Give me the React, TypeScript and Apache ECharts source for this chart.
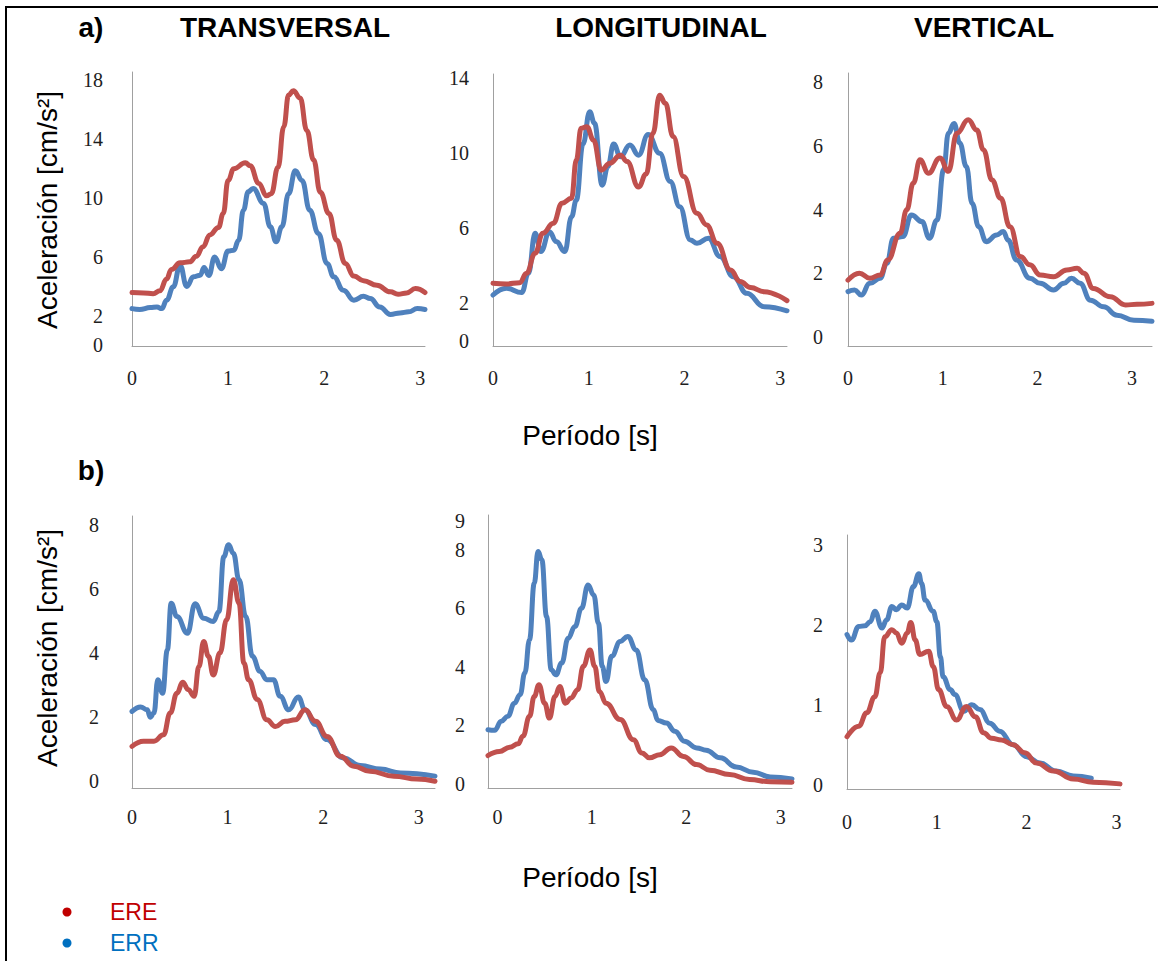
import React, { useEffect, useRef } from "react";
import * as echarts from "echarts";

// ---------- DATA (period [s], acceleration [cm/s2]) ----------
const xTickLabels = [0, 1, 2, 3];

const transA_ERE: number[][] = [[0,3.58],[0.12,3.56],[0.22,3.5],[0.29,3.7],[0.36,4.5],[0.41,5.15],[0.5,5.6],[0.6,5.67],[0.67,6.05],[0.74,6.7],[0.81,7.5],[0.9,8.0],[0.95,8.96],[1.0,11.2],[1.06,12.0],[1.18,12.4],[1.23,12.2],[1.32,11.0],[1.4,10.16],[1.45,10.3],[1.52,12.1],[1.58,14.85],[1.63,17.0],[1.68,17.3],[1.75,16.8],[1.82,14.6],[1.89,12.6],[1.96,10.4],[2.05,8.96],[2.13,7.14],[2.22,5.56],[2.31,4.7],[2.41,4.38],[2.55,4.08],[2.69,3.63],[2.77,3.47],[2.86,3.56],[2.95,3.85],[3.05,3.58]];
const transA_ERR: number[][] = [[0,2.49],[0.08,2.43],[0.19,2.56],[0.26,2.6],[0.31,2.49],[0.36,3.06],[0.43,3.97],[0.5,5.44],[0.57,4.0],[0.64,4.65],[0.71,4.76],[0.75,5.28],[0.8,4.74],[0.86,6.0],[0.93,5.2],[1.0,6.4],[1.06,6.46],[1.11,7.14],[1.16,9.18],[1.21,10.43],[1.26,10.66],[1.37,9.64],[1.44,8.05],[1.5,7.03],[1.56,8.05],[1.63,10.3],[1.7,11.86],[1.77,11.2],[1.85,9.18],[1.94,7.6],[2.03,5.56],[2.1,4.65],[2.2,3.74],[2.31,3.06],[2.41,3.33],[2.48,3.17],[2.58,2.6],[2.69,2.09],[2.79,2.2],[2.88,2.27],[2.97,2.49],[3.05,2.43]];
const transA_yTicks = [0, 2, 6, 10, 14, 18];

const longA_ERE: number[][] = [[0,3.07],[0.14,3.03],[0.28,3.1],[0.35,3.6],[0.44,4.67],[0.52,5.73],[0.63,6.27],[0.72,7.33],[0.82,7.6],[0.87,9.64],[0.92,11.33],[0.98,11.42],[1.05,10.7],[1.13,9.1],[1.22,9.47],[1.33,9.9],[1.4,9.56],[1.52,8.2],[1.6,8.9],[1.67,11.07],[1.74,13.1],[1.8,12.67],[1.88,10.9],[1.99,8.76],[2.13,6.8],[2.23,6.18],[2.34,5.2],[2.48,3.78],[2.58,3.16],[2.69,2.84],[2.83,2.62],[3.07,2.14]];
const longA_ERR: number[][] = [[0,2.44],[0.14,2.8],[0.3,2.57],[0.37,3.6],[0.44,5.73],[0.5,4.76],[0.59,5.82],[0.66,5.29],[0.75,4.76],[0.82,6.62],[0.87,7.5],[0.94,10.5],[1.01,12.22],[1.06,11.6],[1.14,8.3],[1.2,9.3],[1.26,10.5],[1.33,9.82],[1.43,10.44],[1.52,9.9],[1.62,11.0],[1.74,10.0],[1.85,8.5],[1.95,7.15],[2.06,5.38],[2.13,5.2],[2.25,5.47],[2.37,4.5],[2.51,3.42],[2.65,2.53],[2.83,1.82],[3.07,1.6]];
const longA_yTicks = [0, 2, 6, 10, 14];

const vertA_ERE: number[][] = [[0,1.78],[0.12,2.0],[0.23,1.84],[0.34,1.94],[0.42,2.41],[0.55,3.25],[0.62,3.99],[0.69,4.83],[0.76,5.56],[0.85,5.14],[0.97,5.62],[1.06,5.2],[1.15,6.4],[1.27,6.82],[1.36,6.5],[1.43,5.88],[1.52,4.93],[1.61,4.36],[1.71,3.46],[1.82,2.52],[1.92,2.26],[2.03,1.94],[2.17,1.89],[2.31,2.1],[2.42,2.15],[2.49,2.0],[2.59,1.52],[2.77,1.26],[2.93,1.0],[3.05,1.02],[3.21,1.05]];
const vertA_ERR: number[][] = [[0,1.42],[0.07,1.47],[0.14,1.31],[0.23,1.68],[0.34,1.84],[0.41,2.31],[0.48,3.1],[0.58,3.15],[0.67,3.83],[0.78,3.62],[0.86,3.1],[0.94,3.67],[1.01,5.25],[1.06,6.4],[1.12,6.7],[1.18,6.09],[1.25,5.35],[1.31,4.2],[1.38,3.46],[1.46,2.99],[1.57,3.2],[1.64,3.31],[1.69,3.04],[1.78,2.41],[1.92,1.84],[2.03,1.68],[2.17,1.47],[2.28,1.68],[2.36,1.84],[2.45,1.68],[2.56,1.15],[2.7,0.94],[2.84,0.68],[3.02,0.52],[3.21,0.49]];
const vertA_yTicks = [0, 2, 4, 6, 8];

const transB_ERE: number[][] = [[0,1.09],[0.12,1.25],[0.23,1.25],[0.33,1.45],[0.4,2.13],[0.47,2.75],[0.53,3.09],[0.59,2.86],[0.65,2.65],[0.7,3.58],[0.75,4.36],[0.8,3.9],[0.85,3.32],[0.92,4.0],[0.99,5.04],[1.06,6.29],[1.12,5.56],[1.17,3.69],[1.22,3.17],[1.31,2.55],[1.41,1.92],[1.5,1.71],[1.6,1.87],[1.71,1.92],[1.81,2.23],[1.92,1.87],[2.04,1.4],[2.18,0.78],[2.32,0.47],[2.49,0.31],[2.74,0.16],[2.98,0.07],[3.17,0.0]];
const transB_ERR: number[][] = [[0,2.18],[0.09,2.32],[0.16,2.23],[0.19,2.0],[0.23,2.13],[0.27,3.17],[0.32,2.75],[0.37,4.1],[0.41,5.56],[0.47,5.14],[0.58,4.62],[0.66,5.54],[0.75,5.09],[0.85,4.99],[0.91,5.3],[0.96,7.01],[1.01,7.38],[1.06,7.12],[1.12,6.29],[1.19,5.14],[1.26,3.9],[1.34,3.43],[1.41,3.17],[1.48,3.17],[1.55,2.65],[1.64,2.23],[1.74,2.63],[1.81,2.23],[1.92,1.77],[2.04,1.3],[2.21,0.73],[2.39,0.49],[2.6,0.38],[2.81,0.26],[3.17,0.16]];
const transB_yTicks = [0, 2, 4, 6, 8];

const longB_ERE: number[][] = [[-0.1,0.97],[0.02,1.11],[0.13,1.25],[0.22,1.37],[0.27,1.63],[0.34,2.31],[0.39,2.99],[0.44,3.39],[0.5,2.76],[0.55,2.25],[0.61,2.99],[0.66,3.33],[0.72,2.76],[0.78,2.94],[0.85,3.22],[0.91,4.02],[0.98,4.58],[1.03,4.02],[1.08,3.16],[1.15,2.76],[1.3,2.2],[1.44,1.51],[1.53,1.06],[1.61,0.89],[1.72,1.0],[1.84,1.23],[1.97,0.94],[2.11,0.66],[2.25,0.47],[2.46,0.32],[2.67,0.15],[2.89,0.07],[3.12,0.06]];
const longB_ERR: number[][] = [[-0.1,1.85],[-0.03,1.83],[0.04,2.14],[0.11,2.31],[0.18,2.76],[0.24,3.05],[0.29,3.79],[0.34,4.93],[0.39,6.86],[0.43,7.94],[0.47,7.66],[0.52,5.72],[0.57,3.9],[0.62,3.73],[0.68,4.13],[0.75,4.98],[0.82,5.38],[0.89,6.0],[0.96,6.8],[1.02,6.46],[1.07,5.49],[1.11,4.02],[1.15,3.5],[1.21,4.36],[1.3,4.87],[1.38,5.04],[1.47,4.58],[1.56,3.56],[1.65,2.54],[1.7,2.17],[1.79,2.08],[1.88,1.8],[1.98,1.46],[2.11,1.23],[2.21,1.15],[2.36,0.89],[2.53,0.58],[2.71,0.4],[2.89,0.24],[3.12,0.17]];
const longB_yTicks = [0, 2, 4, 6, 8, 9];

const vertB_ERE: number[][] = [[0,0.6],[0.13,0.73],[0.22,0.9],[0.31,1.1],[0.37,1.4],[0.42,1.85],[0.5,1.94],[0.55,1.9],[0.61,1.77],[0.67,1.9],[0.71,2.03],[0.76,1.81],[0.81,1.63],[0.91,1.67],[0.96,1.48],[1.02,1.19],[1.11,0.98],[1.22,0.81],[1.33,0.98],[1.43,0.85],[1.52,0.65],[1.61,0.58],[1.72,0.56],[1.85,0.5],[1.98,0.4],[2.11,0.27],[2.3,0.17],[2.52,0.07],[2.74,0.03],[3.04,0.01]];
const vertB_ERR: number[][] = [[0,1.88],[0.05,1.81],[0.13,1.98],[0.2,1.99],[0.26,2.04],[0.31,2.17],[0.39,1.96],[0.44,2.06],[0.5,2.23],[0.55,2.19],[0.61,2.25],[0.67,2.21],[0.74,2.48],[0.8,2.64],[0.83,2.52],[0.87,2.31],[0.96,2.17],[1.0,2.04],[1.04,1.6],[1.07,1.35],[1.15,1.19],[1.2,1.13],[1.3,0.92],[1.39,1.0],[1.48,0.94],[1.59,0.77],[1.7,0.67],[1.85,0.5],[2.0,0.35],[2.15,0.27],[2.33,0.17],[2.52,0.11],[2.72,0.08]];
const vertB_yTicks = [0, 1, 2, 3];

const componentTitles = ["TRANSVERSAL", "LONGITUDINAL", "VERTICAL"];
const seriesNames = ["ERE", "ERR"];

// ---------- LAYOUT / STYLE ----------
const RED = "#C0504D";
const BLUE = "#4F81BD";
const SANS = "'Liberation Sans', Arial, sans-serif";
const SERIF = "'Liberation Serif', 'Times New Roman', serif";

const panels = [
  { left: 132, top: 72, width: 293, height: 274, xMin: 0, xMax: 3.05, yMin: -0.05, yMax: 18.57, yTicks: transA_yTicks, ere: transA_ERE, err: transA_ERR, yMargin: 29, xMargin: 22 },
  { left: 493, top: 74, width: 294, height: 272, xMin: 0, xMax: 3.07, yMin: -0.28, yMax: 14.23, yTicks: longA_yTicks, ere: longA_ERE, err: longA_ERR, yMargin: 24, xMargin: 22 },
  { left: 848, top: 73, width: 304, height: 273, xMin: 0, xMax: 3.21, yMin: -0.29, yMax: 8.29, yTicks: vertA_yTicks, ere: vertA_ERE, err: vertA_ERR, yMargin: 25, xMargin: 22 },
  { left: 132, top: 516, width: 303, height: 272, xMin: 0, xMax: 3.17, yMin: -0.21, yMax: 8.28, yTicks: transB_yTicks, ere: transB_ERE, err: transB_ERR, yMargin: 33, xMargin: 19 },
  { left: 488, top: 515, width: 304, height: 273, xMin: -0.1, xMax: 3.12, yMin: -0.14, yMax: 9.19, yTicks: longB_yTicks, ere: longB_ERE, err: longB_ERR, yMargin: 23, xMargin: 19 },
  { left: 847, top: 535, width: 273, height: 254, xMin: 0, xMax: 3.04, yMin: -0.054, yMax: 3.125, yTicks: vertB_yTicks, ere: vertB_ERE, err: vertB_ERR, yMargin: 24, xMargin: 23 },
];

function buildOption() {
  const grid = panels.map((p) => ({ left: p.left, top: p.top, width: p.width, height: p.height, containLabel: false }));
  const axisLine = { show: true, onZero: false, lineStyle: { color: "#a0a0a0", width: 1 } };
  const labelStyle = { fontFamily: SERIF, fontSize: 20, color: "#1e1e1e" };
  const xAxis = panels.map((p, i) => ({
    type: "value", gridIndex: i, min: p.xMin, max: p.xMax,
    axisLine, axisTick: { show: false }, splitLine: { show: false },
    axisLabel: { ...labelStyle, margin: p.xMargin, customValues: xTickLabels, showMinLabel: true, showMaxLabel: true },
  }));
  const yAxis = panels.map((p, i) => ({
    type: "value", gridIndex: i, min: p.yMin, max: p.yMax,
    axisLine, axisTick: { show: false }, splitLine: { show: false },
    axisLabel: { ...labelStyle, margin: p.yMargin, customValues: p.yTicks, showMinLabel: true, showMaxLabel: true },
  }));
  const series: any[] = [];
  panels.forEach((p, i) => {
    series.push({
      type: "line", name: seriesNames[1], xAxisIndex: i, yAxisIndex: i, data: p.err,
      smooth: 0.45, smoothMonotone: "x", showSymbol: false, silent: true,
      lineStyle: { color: BLUE, width: 5, cap: "round", join: "round" }, itemStyle: { color: BLUE },
    });
    series.push({
      type: "line", name: seriesNames[0], xAxisIndex: i, yAxisIndex: i, data: p.ere,
      smooth: 0.45, smoothMonotone: "x", showSymbol: false, silent: true,
      lineStyle: { color: RED, width: 5, cap: "round", join: "round" }, itemStyle: { color: RED },
    });
  });

  const bold = (text: string, x: number, y: number) => ({
    type: "text", x, y,
    style: { text, fontFamily: SANS, fontWeight: "bold", fontSize: 28, fill: "#000", textAlign: "center", textVerticalAlign: "middle" },
  });
  const plain = (text: string, x: number, y: number, rotation = 0) => ({
    type: "text", x, y, rotation,
    style: { text, fontFamily: SANS, fontSize: 28, fill: "#000", textAlign: "center", textVerticalAlign: "middle" },
  });

  const graphic: any[] = [
    { type: "line", shape: { x1: 6, y1: 7, x2: 1158, y2: 7 }, style: { stroke: "#000", lineWidth: 2 } },
    { type: "line", shape: { x1: 6, y1: 6, x2: 6, y2: 961 }, style: { stroke: "#000", lineWidth: 2 } },
    bold("a)", 91, 27),
    bold(componentTitles[0], 285, 27),
    bold(componentTitles[1], 661, 27),
    bold(componentTitles[2], 984, 27),
    bold("b)", 91, 470),
    plain("Período [s]", 590, 435),
    plain("Período [s]", 590, 877),
    plain("Aceleración [cm/s²]", 47, 210, Math.PI / 2),
    plain("Aceleración [cm/s²]", 47, 648, Math.PI / 2),
    { type: "circle", shape: { cx: 67, cy: 912, r: 4.5 }, style: { fill: "#C00000" } },
    { type: "circle", shape: { cx: 67, cy: 943, r: 4.5 }, style: { fill: "#0070C0" } },
    { type: "text", x: 110, y: 912, style: { text: seriesNames[0], fontFamily: SANS, fontSize: 23, fill: "#C00000", textAlign: "left", textVerticalAlign: "middle" } },
    { type: "text", x: 110, y: 943, style: { text: seriesNames[1], fontFamily: SANS, fontSize: 23, fill: "#0070C0", textAlign: "left", textVerticalAlign: "middle" } },
  ];

  return { animation: false, backgroundColor: "#fff", grid, xAxis, yAxis, series, graphic };
}

export default function App() {
  const ref = useRef<HTMLDivElement>(null);
  useEffect(() => {
    if (!ref.current) return;
    const chart = echarts.init(ref.current, undefined, { renderer: "svg" });
    chart.setOption(buildOption() as any);
    return () => chart.dispose();
  }, []);
  return (
    <div style={{ position: "fixed", left: 0, top: 0, width: 1158, height: 961, background: "#fff" }}>
      <div ref={ref} style={{ width: 1158, height: 961 }} />
    </div>
  );
}
